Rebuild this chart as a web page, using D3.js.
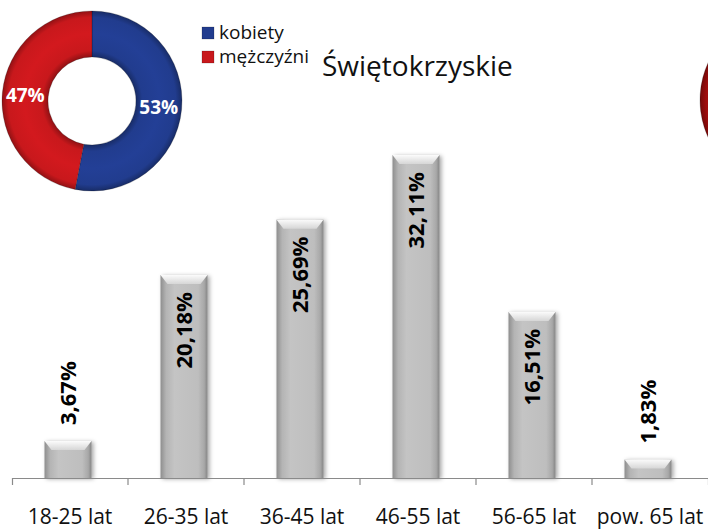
<!DOCTYPE html>
<html>
<head>
<meta charset="utf-8">
<script src="https://cdn.jsdelivr.net/npm/d3@7"></script>
<style>
  html, body { margin: 0; padding: 0; background: #fff; }
  svg { display: block; font-family: "Open Sans", "Noto Sans", sans-serif; }
</style>
</head>
<body>
<svg id="chart" width="708" height="530"></svg>
<script>
// Age groups and their share (%)
const categories = ["18-25 lat", "26-35 lat", "36-45 lat", "46-55 lat", "56-65 lat", "pow. 65 lat"];
const shares = [3.67, 20.18, 25.69, 32.11, 16.51, 1.83];
const shareLabels = ["3,67%", "20,18%", "25,69%", "32,11%", "16,51%", "1,83%"];

// Gender split
const genders = ["kobiety", "mężczyźni"];
const genderShares = [53, 47];
const genderColors = ["#213c8e", "#c8181c"];

// Neighbouring region's donut, cut off at the right edge
const nextGenderShares = [52, 48];
const nextGenderColors = ["#213c8e", "#a00c0c"];

const title = "Świętokrzyskie";

const svg = d3.select("#chart");
const defs = svg.append("defs");

// ---------- bar chart ----------
const xb = d3.scaleBand().domain(categories).range([12, 708]);
const barW = 47;
const barX = d => xb(d) + (xb.bandwidth() - barW) / 2 - 2;
const y = d3.scaleLinear().domain([0, 35]).range([478, 126]);

const barGrad = defs.append("linearGradient").attr("id", "barGrad").attr("x1", 0).attr("x2", 1);
[[0, "#8e8e8e"], [0.12, "#b4b4b4"], [0.3, "#c4c4c4"], [0.8, "#bebebe"], [0.93, "#a8a8a8"], [1, "#858585"]]
  .forEach(([o, c]) => barGrad.append("stop").attr("offset", o).attr("stop-color", c));

const bevelGrad = defs.append("linearGradient").attr("id", "bevelGrad").attr("x1", 0).attr("x2", 0).attr("y1", 0).attr("y2", 1);
[[0, "#fbfbfb"], [1, "#d6d6d6"]]
  .forEach(([o, c]) => bevelGrad.append("stop").attr("offset", o).attr("stop-color", c));

const shadow = defs.append("filter").attr("id", "shadow").attr("x", "-30%").attr("y", "-30%").attr("width", "160%").attr("height", "160%");
shadow.append("feDropShadow").attr("dx", 2).attr("dy", 1).attr("stdDeviation", 2).attr("flood-color", "#000").attr("flood-opacity", 0.35);

const bars = svg.append("g").selectAll("g").data(shares).join("g")
  .attr("filter", "url(#shadow)");

bars.append("rect")
  .attr("x", (d, i) => barX(categories[i]))
  .attr("y", d => y(d))
  .attr("width", barW)
  .attr("height", d => y(0) - y(d))
  .attr("fill", "url(#barGrad)");

// bevelled cap on top of each bar
const bevel = 9, inset = 7;
bars.append("path")
  .attr("d", (d, i) => {
    const x0 = barX(categories[i]), x1 = x0 + barW, t = y(d);
    const h = Math.min(bevel, (y(0) - t) / 2);
    return `M${x0},${t}H${x1}L${x1 - inset},${t + h}H${x0 + inset}Z`;
  })
  .attr("fill", "url(#bevelGrad)");

// axis
const axisG = svg.append("g").attr("transform", `translate(0,${y(0)})`)
  .call(d3.axisBottom(xb).tickSize(0).tickSizeOuter(7).tickFormat(""));
axisG.select(".domain").attr("stroke", "#8a8a8a").attr("stroke-width", 1.2);
axisG.selectAll(".tick line").remove();
svg.append("g").selectAll("line").data(categories.slice(1)).join("line")
  .attr("x1", d => xb(d)).attr("x2", d => xb(d))
  .attr("y1", y(0)).attr("y2", y(0) + 7)
  .attr("stroke", "#8a8a8a").attr("stroke-width", 1.2);

svg.append("g").selectAll("text").data(categories).join("text")
  .attr("x", d => xb(d) + xb.bandwidth() / 2)
  .attr("y", 524)
  .attr("text-anchor", "middle")
  .attr("font-size", 21)
  .attr("fill", "#111")
  .text(d => d);

// value labels, rotated; inside tall bars, above short ones
svg.append("g").selectAll("text").data(shares).join("text")
  .attr("transform", (d, i) => {
    const cx = barX(categories[i]) + barW / 2;
    const inside = y(0) - y(d) > 100;
    const yy = inside ? y(d) + 17 : y(d) - 16;
    return `translate(${cx},${yy}) rotate(-90)`;
  })
  .attr("text-anchor", d => (y(0) - y(d) > 100 ? "end" : "start"))
  .attr("dy", "0.36em")
  .attr("font-size", 22)
  .attr("font-weight", "bold")
  .attr("fill", "#000")
  .text((d, i) => shareLabels[i]);

// ---------- donuts ----------
function donut(cx, cy, values, colors, id, labels) {
  const rOut = 90, rIn = 44;
  const g = svg.append("g").attr("transform", `translate(${cx},${cy})`);
  const pie = d3.pie().sort(null);
  const arc = d3.arc().innerRadius(rIn).outerRadius(rOut);
  const arcs = pie(values);
  colors.forEach((c, i) => {
    const grad = defs.append("radialGradient").attr("id", `${id}-${i}`)
      .attr("gradientUnits", "userSpaceOnUse").attr("cx", 0).attr("cy", 0).attr("r", rOut);
    const dark = d3.color(c).darker(0.9).formatHex();
    const light = d3.color(c).brighter(0.15).formatHex();
    [[rIn / rOut, dark], [rIn / rOut + 0.07, c], [0.75, light], [0.93, c], [1, dark]]
      .forEach(([o, col]) => grad.append("stop").attr("offset", o).attr("stop-color", col));
  });
  g.selectAll("path").data(arcs).join("path")
    .attr("d", arc)
    .attr("fill", (d, i) => `url(#${id}-${i})`)
    .attr("stroke", "rgba(0,0,0,0.35)")
    .attr("stroke-width", 0.6);
  if (labels) {
    g.selectAll("text").data(arcs).join("text")
      .attr("transform", d => `translate(${arc.centroid(d)})`)
      .attr("text-anchor", "middle")
      .attr("dy", "0.36em")
      .attr("font-size", 19)
      .attr("font-weight", "bold")
      .attr("fill", "#fff")
      .text(d => d.data + "%");
  }
}
donut(92, 101, genderShares, genderColors, "g1", true);
donut(790, 100, nextGenderShares, nextGenderColors, "g2", false);

// legend
const legend = svg.append("g").selectAll("g").data(genders).join("g")
  .attr("transform", (d, i) => `translate(202,${27 + i * 24})`);
legend.append("rect").attr("width", 12).attr("height", 12)
  .attr("fill", (d, i) => genderColors[i])
  .attr("stroke", "rgba(0,0,0,0.3)").attr("stroke-width", 0.6);
legend.append("text").attr("x", 17).attr("y", 12)
  .attr("font-size", 19).attr("fill", "#111").text(d => d);

// title
svg.append("text").attr("x", 322).attr("y", 76)
  .attr("font-size", 28).attr("fill", "#111").text(title);
</script>
</body>
</html>
